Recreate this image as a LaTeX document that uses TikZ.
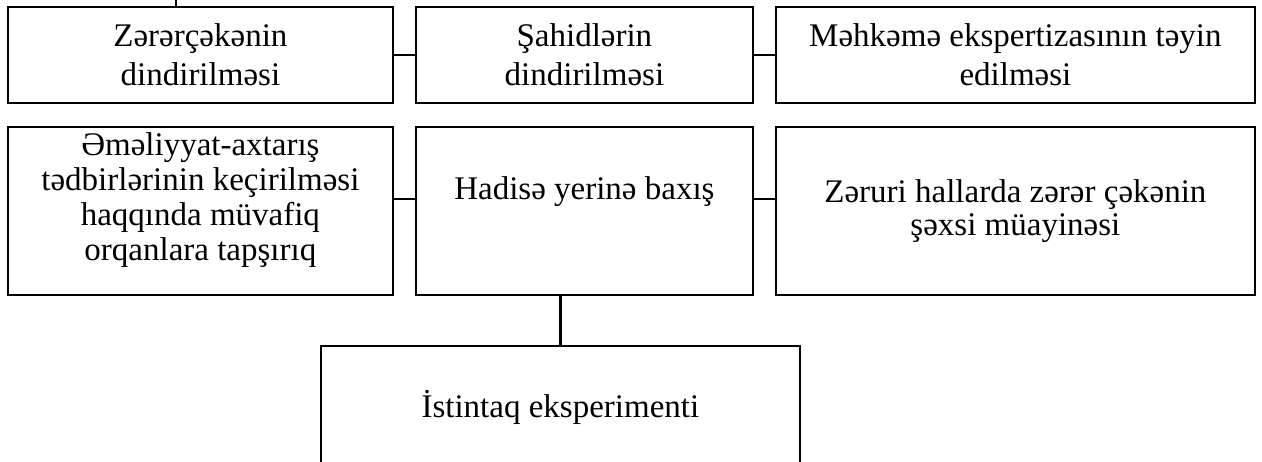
\documentclass[tikz,border=0pt]{standalone}
\usepackage{fontspec}
\setmainfont{Liberation Serif}
\usetikzlibrary{positioning}

\begin{document}
\begin{tikzpicture}[
  x=1pt, y=-1pt,
  font=\fontsize{33}{35}\selectfont,
  box/.style={draw, line width=1.8pt, anchor=north west, inner sep=0pt,
              align=center},
  conn/.style={line width=2.6pt}]

\useasboundingbox (0,0) rectangle (1262,461);

% =================== top row ============================================
\node[box, minimum width=385pt, minimum height=96pt] (zerer) at (7,6)
      {Zərərçəkənin\\[4pt]dindirilməsi};
\node[box, minimum width=337pt, minimum height=96pt] (sahid) at (415,6)
      {Şahidlərin\\[4pt]dindirilməsi};
\node[box, minimum width=479pt, minimum height=96pt] (mehkeme) at (775,6)
      {Məhkəmə ekspertizasının təyin\\[4pt]edilməsi};

% =================== middle row =========================================
\node[box, minimum width=385pt, text height=134pt, text depth=34pt] (emel)
      at (7,126)
      {Əməliyyat-axtarış\\tədbirlərinin keçirilməsi\\haqqında müvafiq\\orqanlara tapşırıq};
\node[box, minimum width=337pt, text height=73pt, text depth=95pt] (hadise)
      at (415,126) {Hadisə yerinə baxış};
\node[box, minimum width=479pt, minimum height=168pt] (zeruri) at (775,126)
      {Zəruri hallarda zərər çəkənin\\[-2pt]şəxsi müayinəsi};

% =================== bottom =============================================
\node[box, minimum width=479pt, minimum height=122pt] (istintaq) at (320,345)
      {İstintaq eksperimenti};

% connectors
\coordinate (ust) at (176,0);
\draw[conn] (ust) -- (ust |- zerer.north);
\draw[conn] (zerer) -- (sahid);
\draw[conn] (sahid) -- (mehkeme);
\draw[conn] ([yshift=12pt]emel.east) -- ([yshift=12pt]hadise.west);
\draw[conn] ([yshift=12pt]hadise.east) -- ([yshift=12pt]zeruri.west);
\draw[conn] (istintaq.north) -- (istintaq.north |- hadise.south);
\end{tikzpicture}
\end{document}
